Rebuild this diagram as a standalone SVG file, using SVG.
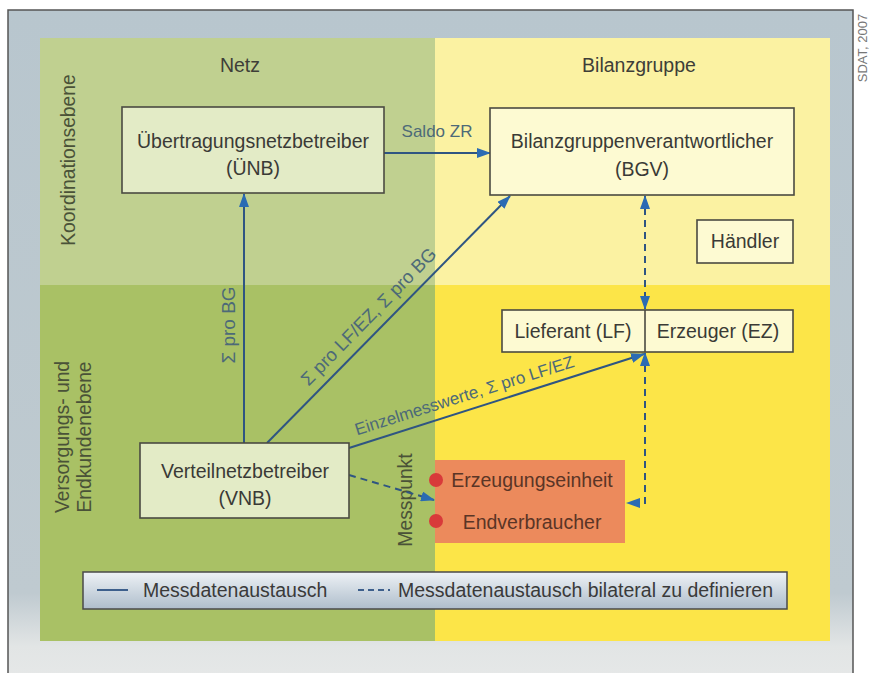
<svg xmlns="http://www.w3.org/2000/svg" width="875" height="673" viewBox="0 0 875 673">
<defs>
<style>
text{font-family:"Liberation Sans",Arial,sans-serif;}
.box{stroke:#4a4a42;stroke-width:1.6;}
.t{font-size:19.5px;fill:#3a3a36;text-anchor:middle;}
.lab{font-size:17px;fill:#4d6a78;text-anchor:middle;}
.side{font-size:19.3px;fill:#4a5238;text-anchor:middle;}
.hd{font-size:19.5px;fill:#3e3e38;text-anchor:middle;}
.ln{stroke:#2f5582;stroke-width:2;fill:none;}
.dash{stroke:#2f5582;stroke-width:2;fill:none;stroke-dasharray:7,5;}
</style>
<marker id="ah" markerWidth="14" markerHeight="10" refX="13" refY="5" orient="auto-start-reverse" markerUnits="userSpaceOnUse">
<path d="M0,0 L14,5 L0,10 Z" fill="#2b6bb3"/>
</marker>
<linearGradient id="lg" x1="0" y1="0" x2="0" y2="1">
<stop offset="0" stop-color="#eef2f6"/>
<stop offset="1" stop-color="#aebdcb"/>
</linearGradient>
<linearGradient id="fr" x1="0" y1="0" x2="0" y2="1">
<stop offset="0" stop-color="#b8c6ce"/>
<stop offset="0.87" stop-color="#bfcad0"/>
<stop offset="0.95" stop-color="#e2e5e5"/>
<stop offset="1" stop-color="#e6e8e8"/>
</linearGradient>
</defs>
<rect x="0" y="0" width="875" height="673" fill="#ffffff"/>
<rect x="8" y="10" width="845" height="670" fill="url(#fr)" stroke="#555" stroke-width="1.5"/>
<rect x="40" y="38" width="395" height="247" fill="#c0d090"/>
<rect x="435" y="38" width="395" height="247" fill="#fbf2a2"/>
<rect x="40" y="285" width="395" height="356" fill="#a9c165"/>
<rect x="435" y="285" width="395" height="356" fill="#fce548"/>
<text x="867" y="48" font-size="13" fill="#777" text-anchor="middle" transform="rotate(-90 867 48)">SDAT, 2007</text>
<text class="hd" x="240" y="72">Netz</text>
<text class="hd" x="639" y="72">Bilanzgruppe</text>
<text class="side" x="75" y="160" transform="rotate(-90 75 160)">Koordinationsebene</text>
<text class="side" transform="rotate(-90 69 437)" x="69" y="437">Versorgungs- und</text>
<text class="side" transform="rotate(-90 91 437)" x="91" y="437">Endkundenebene</text>
<text class="side" transform="rotate(-90 412 500)" x="412" y="500">Messpunkt</text>
<g id="connectors">
<line class="ln" x1="384" y1="153" x2="490" y2="153" marker-end="url(#ah)"/>
<text class="lab" x="437" y="137">Saldo ZR</text>
<line class="ln" x1="244" y1="443" x2="244" y2="194" marker-end="url(#ah)"/>
<text class="lab" style="font-size:19px" transform="rotate(-90 235 325)" x="235" y="325">Σ pro BG</text>
<line class="ln" x1="267" y1="443" x2="510" y2="196" marker-end="url(#ah)"/>
<text class="lab" style="font-size:18.5px" transform="rotate(-45.5 373 321)" x="373" y="321">Σ pro LF/EZ, Σ pro BG</text>
<line class="ln" x1="349" y1="448" x2="644" y2="354" marker-end="url(#ah)"/>
<text class="lab" transform="rotate(-17.5 466 401)" x="466" y="401">Einzelmesswerte, Σ pro LF/EZ</text>
<line class="dash" x1="349" y1="475" x2="434" y2="500" marker-end="url(#ah)"/>
<line class="dash" x1="645" y1="196" x2="645" y2="309" marker-start="url(#ah)" marker-end="url(#ah)"/>
<polyline class="dash" points="645,353 645,503 627,503" marker-start="url(#ah)" marker-end="url(#ah)"/>
</g>
<g id="uenb">
<rect class="box" x="122" y="107" width="262" height="86" fill="#e3ebc6"/>
<text class="t" x="253" y="148">Übertragungsnetzbetreiber</text>
<text class="t" x="253" y="175">(ÜNB)</text>
</g>
<g id="bgv">
<rect class="box" x="490" y="108" width="304" height="87" fill="#fdfad2"/>
<text class="t" x="642" y="148">Bilanzgruppenverantwortlicher</text>
<text class="t" x="642" y="176">(BGV)</text>
</g>
<g id="haendler">
<rect class="box" x="697" y="220" width="96" height="43" fill="#fdfad2"/>
<text class="t" x="745" y="248">Händler</text>
</g>
<g id="lfez">
<rect class="box" x="502" y="310" width="291" height="42" fill="#fdfad2"/>
<line x1="645" y1="310" x2="645" y2="352" stroke="#4a4a42" stroke-width="1.6"/>
<text class="t" x="573" y="338">Lieferant (LF)</text>
<text class="t" x="718" y="338">Erzeuger (EZ)</text>
</g>
<g id="vnb">
<rect class="box" x="140" y="443" width="209" height="75" fill="#e3ebc6"/>
<text class="t" x="245" y="478">Verteilnetzbetreiber</text>
<text class="t" x="245" y="505">(VNB)</text>
</g>
<g id="messpunkt">
<rect x="435" y="460" width="190" height="83" fill="#ec8a5c"/>
<circle cx="436" cy="480" r="7" fill="#d83a3a"/>
<circle cx="436" cy="521" r="7" fill="#d83a3a"/>
<text class="t" x="532" y="487" style="fill:#5a3526">Erzeugungseinheit</text>
<text class="t" x="532" y="529" style="fill:#5a3526">Endverbraucher</text>
</g>
<g id="legend">
<rect x="83" y="572" width="704" height="37" fill="url(#lg)" stroke="#4a4a4a" stroke-width="1.5"/>
<line x1="97" y1="590" x2="128" y2="590" stroke="#3d5f8c" stroke-width="2"/>
<text x="143" y="597" font-size="19.5" fill="#3a3a3a">Messdatenaustausch</text>
<line x1="358" y1="590" x2="390" y2="590" stroke="#3d5f8c" stroke-width="2" stroke-dasharray="6,4"/>
<text x="398" y="597" font-size="19.5" fill="#3a3a3a">Messdatenaustausch bilateral zu definieren</text>
</g>
</svg>
